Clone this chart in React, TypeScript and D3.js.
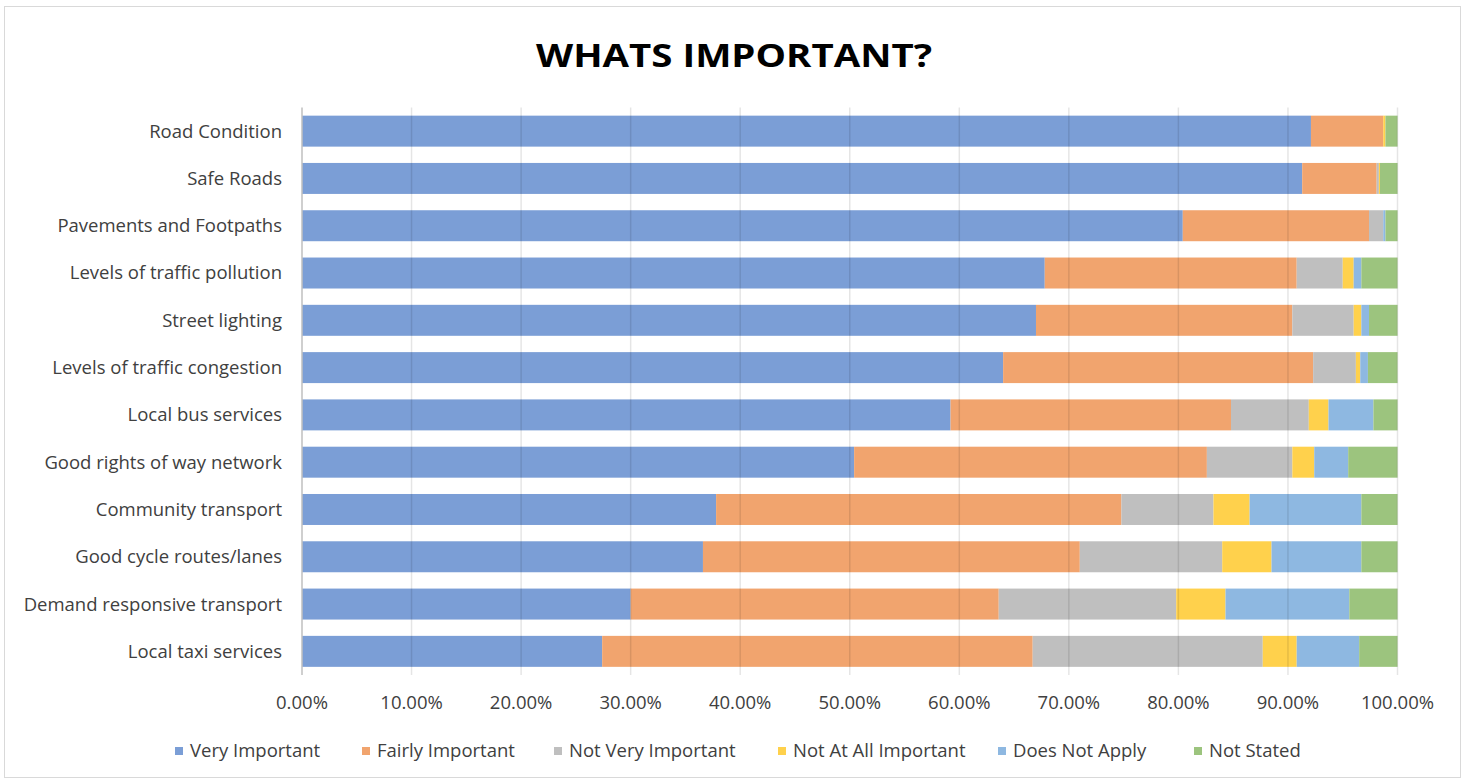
import React from "react";
import * as d3 from "d3";

const categories = [
  "Road Condition",
  "Safe Roads",
  "Pavements and Footpaths",
  "Levels of traffic pollution",
  "Street lighting",
  "Levels of traffic congestion",
  "Local bus services",
  "Good rights of way network",
  "Community transport",
  "Good cycle routes/lanes",
  "Demand responsive transport",
  "Local taxi services",
];

const seriesNames = [
  "Very Important",
  "Fairly Important",
  "Not Very Important",
  "Not At All Important",
  "Does Not Apply",
  "Not Stated",
];

const veryImportant = [92.1, 91.3, 80.4, 67.8, 67.0, 64.0, 59.2, 50.4, 37.8, 36.6, 30.0, 27.4];
const fairlyImportant = [6.6, 6.8, 17.0, 23.0, 23.4, 28.3, 25.6, 32.2, 37.0, 34.4, 33.6, 39.3];
const notVeryImportant = [0, 0.2, 1.3, 4.2, 5.6, 3.9, 7.1, 7.8, 8.4, 13.0, 16.2, 21.0];
const notAtAllImportant = [0.2, 0.1, 0, 1.0, 0.7, 0.4, 1.8, 2.0, 3.3, 4.5, 4.5, 3.1];
const doesNotApply = [0, 0, 0.2, 0.7, 0.7, 0.7, 4.1, 3.1, 10.2, 8.2, 11.3, 5.7];
const notStated = [1.1, 1.6, 1.1, 3.3, 2.6, 2.7, 2.2, 4.5, 3.3, 3.3, 4.4, 3.5];

const xTicks = [0, 0.1, 0.2, 0.3, 0.4, 0.5, 0.6, 0.7, 0.8, 0.9, 1.0];

const colors = ["#7b9ed6", "#f1a46e", "#bfbfbf", "#ffd14c", "#8eb8e1", "#9cc47e"];

const W = 1467;
const H = 781;
const FONT = "Open Sans, Lato, sans-serif";
const FS = 18.5;

export default function App() {
  const seriesValues = [veryImportant, fairlyImportant, notVeryImportant, notAtAllImportant, doesNotApply, notStated];
  const rows = categories.map((c, i) => {
    const r: any = { cat: c };
    seriesNames.forEach((s, j) => (r[s] = seriesValues[j][i] / 100));
    return r;
  });
  const stack = d3.stack<any>().keys(seriesNames)(rows);

  const x = d3.scaleLinear().domain([0, 1]).range([302, 1397.5]);
  const y = d3
    .scaleBand<string>()
    .domain(categories)
    .range([107.5, 675])
    .paddingInner(0.345)
    .paddingOuter(0.1725);
  const fmt = d3.format(".2%");

  const legendX = [175, 362, 554, 778, 998, 1194];

  return (
    <svg
      width={W}
      height={H}
      style={{ position: "absolute", left: 0, top: 0, display: "block", background: "#fff" }}
    >
      <rect x={4.5} y={6.5} width={1456} height={771} fill="#fff" stroke="#d9d9d9" strokeWidth={1} />
      <text
        x={734}
        y={67}
        textAnchor="middle"
        fontFamily={FONT}
        fontWeight={700}
        fontSize={33}
        fill="#000"
        textLength={396}
        lengthAdjust="spacingAndGlyphs"
      >
        WHATS IMPORTANT?
      </text>

      {stack.map((s, j) => (
        <g key={s.key} fill={colors[j]}>
          {s.map((d, i) => (
            <rect
              key={i}
              x={x(d[0])}
              y={y(categories[i])}
              width={Math.max(0, x(d[1]) - x(d[0]))}
              height={y.bandwidth()}
            />
          ))}
        </g>
      ))}

      {xTicks.slice(1).map((t) => (
        <line
          key={t}
          x1={x(t)}
          x2={x(t)}
          y1={107.5}
          y2={675}
          stroke="#000"
          strokeOpacity={0.1}
          strokeWidth={1.5}
        />
      ))}
      <line x1={x(0)} x2={x(0)} y1={107.5} y2={675} stroke="#bfbfbf" strokeWidth={1.5} />

      {categories.map((c) => (
        <text
          key={c}
          x={282}
          y={(y(c) as number) + y.bandwidth() / 2}
          dy="0.35em"
          textAnchor="end"
          fontFamily={FONT}
          fontSize={FS}
          fill="#404040"
        >
          {c}
        </text>
      ))}

      {xTicks.map((t) => (
        <text
          key={t}
          x={x(t)}
          y={703}
          dy="0.35em"
          textAnchor="middle"
          fontFamily={FONT}
          fontSize={FS}
          fill="#404040"
        >
          {fmt(t)}
        </text>
      ))}

      {seriesNames.map((s, j) => (
        <g key={s}>
          <rect x={legendX[j]} y={747} width={8} height={8} fill={colors[j]} />
          <text
            x={legendX[j] + 15}
            y={751}
            dy="0.35em"
            fontFamily={FONT}
            fontSize={FS}
            fill="#404040"
          >
            {s}
          </text>
        </g>
      ))}
    </svg>
  );
}
